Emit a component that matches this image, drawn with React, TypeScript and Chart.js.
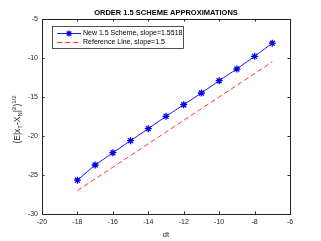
import React, { useEffect, useRef } from "react";
import { Chart, registerables } from "chart.js";

Chart.register(...registerables);

const dtValues = [-18, -17, -16, -15, -14, -13, -12, -11, -10, -9, -8, -7];
const schemeErrors = [-25.66, -23.72, -22.14, -20.6, -19.06, -17.48, -15.99, -14.49, -12.91, -11.41, -9.79, -8.1];
const referenceLine = [-27, -25.5, -24, -22.5, -21, -19.5, -18, -16.5, -15, -13.5, -12, -10.5];
const xTicks = [-20, -18, -16, -14, -12, -10, -8, -6];
const yTicks = [-30, -25, -20, -15, -10, -5];
const titleText = "ORDER 1.5 SCHEME APPROXIMATIONS";
const seriesLabels = ["New 1.5 Scheme, slope=1.5518", "Reference Line, slope=1.5"];

const AXIS = "#262626";
const BLUE = "#1a1aff";
const RED = "#ff3333";
const FONT = "'Liberation Sans', Arial, Helvetica, sans-serif";

const decorPlugin = {
  id: "decor",
  afterDraw(chart: any) {
    const ctx = chart.ctx as CanvasRenderingContext2D;
    const { left, right, top, bottom } = chart.chartArea;
    const xs = chart.scales.x;
    const ys = chart.scales.y;
    ctx.save();
    // box
    ctx.strokeStyle = AXIS;
    ctx.lineWidth = 1;
    ctx.strokeRect(Math.round(left) + 0.5, Math.round(top) + 0.5, Math.round(right - left), Math.round(bottom - top));
    // inward ticks
    const tl = 2.5;
    ctx.beginPath();
    xTicks.forEach((v) => {
      const px = Math.round(xs.getPixelForValue(v)) + 0.5;
      ctx.moveTo(px, bottom);
      ctx.lineTo(px, bottom - tl);
      ctx.moveTo(px, top);
      ctx.lineTo(px, top + tl);
    });
    yTicks.forEach((v) => {
      const py = Math.round(ys.getPixelForValue(v)) + 0.5;
      ctx.moveTo(left, py);
      ctx.lineTo(left + tl, py);
      ctx.moveTo(right, py);
      ctx.lineTo(right - tl, py);
    });
    ctx.stroke();

    // title
    ctx.fillStyle = "#000";
    ctx.font = `bold 7.5px ${FONT}`;
    ctx.textAlign = "center";
    ctx.textBaseline = "alphabetic";
    ctx.fillText(titleText, (left + right) / 2, 15);

    // x label
    ctx.fillStyle = AXIS;
    ctx.font = `7.5px ${FONT}`;
    ctx.fillText("dt", (left + right) / 2, 236.5);

    // y label with sub/superscripts
    const M = 8.5, S = 6;
    const parts: [string, number, number][] = [
      ["(E|x", 0, M],
      ["T", 2.2, S],
      ["-X", 0, M],
      ["N", 2.2, S],
      ["|", 0, M],
      ["2", -4, S],
      [")", 0, M],
      ["1/2", -4, S],
    ];
    let total = 0;
    parts.forEach(([t, , s]) => {
      ctx.font = `${s}px ${FONT}`;
      total += ctx.measureText(t).width;
    });
    ctx.translate(20, (top + bottom) / 2 + 3);
    ctx.rotate(-Math.PI / 2);
    ctx.textAlign = "left";
    let cx = -total / 2;
    parts.forEach(([t, dy, s]) => {
      ctx.font = `${s}px ${FONT}`;
      ctx.fillText(t, cx, dy);
      cx += ctx.measureText(t).width;
    });
    ctx.setTransform(1, 0, 0, 1, 0, 0);

    // legend
    const bx = 52.5, by = 26.5, bw = 131, bh = 22;
    ctx.fillStyle = "#fff";
    ctx.fillRect(bx, by, bw, bh);
    ctx.strokeStyle = AXIS;
    ctx.lineWidth = 0.8;
    ctx.strokeRect(bx, by, bw, bh);
    const rows = [33.5, 42.5];
    ctx.strokeStyle = BLUE;
    ctx.lineWidth = 1;
    ctx.setLineDash([]);
    ctx.beginPath();
    ctx.moveTo(57, rows[0]);
    ctx.lineTo(81, rows[0]);
    ctx.stroke();
    ctx.strokeStyle = "#0000ee";
    ctx.lineWidth = 1.3;
    ctx.beginPath();
    const r = 3;
    for (let k = 0; k < 4; k++) {
      const a = (k * Math.PI) / 4;
      ctx.moveTo(69 - r * Math.cos(a), rows[0] - r * Math.sin(a));
      ctx.lineTo(69 + r * Math.cos(a), rows[0] + r * Math.sin(a));
    }
    ctx.stroke();
    ctx.strokeStyle = RED;
    ctx.lineWidth = 1;
    ctx.setLineDash([5, 3]);
    ctx.beginPath();
    ctx.moveTo(57, rows[1]);
    ctx.lineTo(81, rows[1]);
    ctx.stroke();
    ctx.setLineDash([]);
    ctx.fillStyle = "#000";
    ctx.font = `7px ${FONT}`;
    ctx.textBaseline = "middle";
    ctx.fillText(seriesLabels[0], 83, rows[0]);
    ctx.fillText(seriesLabels[1], 83, rows[1]);
    ctx.restore();
  },
};

export default function App() {
  const ref = useRef<HTMLCanvasElement | null>(null);
  useEffect(() => {
    document.body.style.margin = "0";
    const canvas = ref.current!;
    const chart = new Chart(canvas, {
      type: "line",
      data: {
        datasets: [
          {
            label: seriesLabels[0],
            data: dtValues.map((x, i) => ({ x, y: schemeErrors[i] })),
            borderColor: BLUE,
            borderWidth: 1,
            pointStyle: "star",
            pointRadius: 3.5,
            pointBorderColor: "#0000ee",
            pointBackgroundColor: "#0000ee",
            pointBorderWidth: 1.3,
            tension: 0,
          },
          {
            label: seriesLabels[1],
            data: dtValues.map((x, i) => ({ x, y: referenceLine[i] })),
            borderColor: RED,
            borderWidth: 1,
            borderDash: [5, 3],
            pointRadius: 0,
            tension: 0,
          },
        ],
      },
      options: {
        responsive: false,
        animation: false,
        devicePixelRatio: 1,
        layout: { padding: { left: 0, right: 31, top: 19, bottom: 0 } },
        plugins: { legend: { display: false }, tooltip: { enabled: false }, title: { display: false } },
        scales: {
          x: {
            type: "linear",
            min: -20,
            max: -6,
            afterFit: (s: any) => { s.height = 27; },
            afterBuildTicks: (s: any) => { s.ticks = xTicks.map((v) => ({ value: v })); },
            grid: { display: false, drawTicks: false },
            border: { display: false },
            ticks: { padding: 4, color: AXIS, font: { family: FONT, size: 7 }, maxRotation: 0, autoSkip: false },
          },
          y: {
            type: "linear",
            min: -30,
            max: -5,
            afterFit: (s: any) => { s.width = 42; },
            afterBuildTicks: (s: any) => { s.ticks = yTicks.map((v) => ({ value: v })); },
            grid: { display: false, drawTicks: false },
            border: { display: false },
            ticks: { padding: 4, color: AXIS, font: { family: FONT, size: 7 }, autoSkip: false },
          },
        },
      },
      plugins: [decorPlugin],
    });
    return () => chart.destroy();
  }, []);
  return <canvas ref={ref} width={321} height={241} style={{ display: "block" }} />;
}
